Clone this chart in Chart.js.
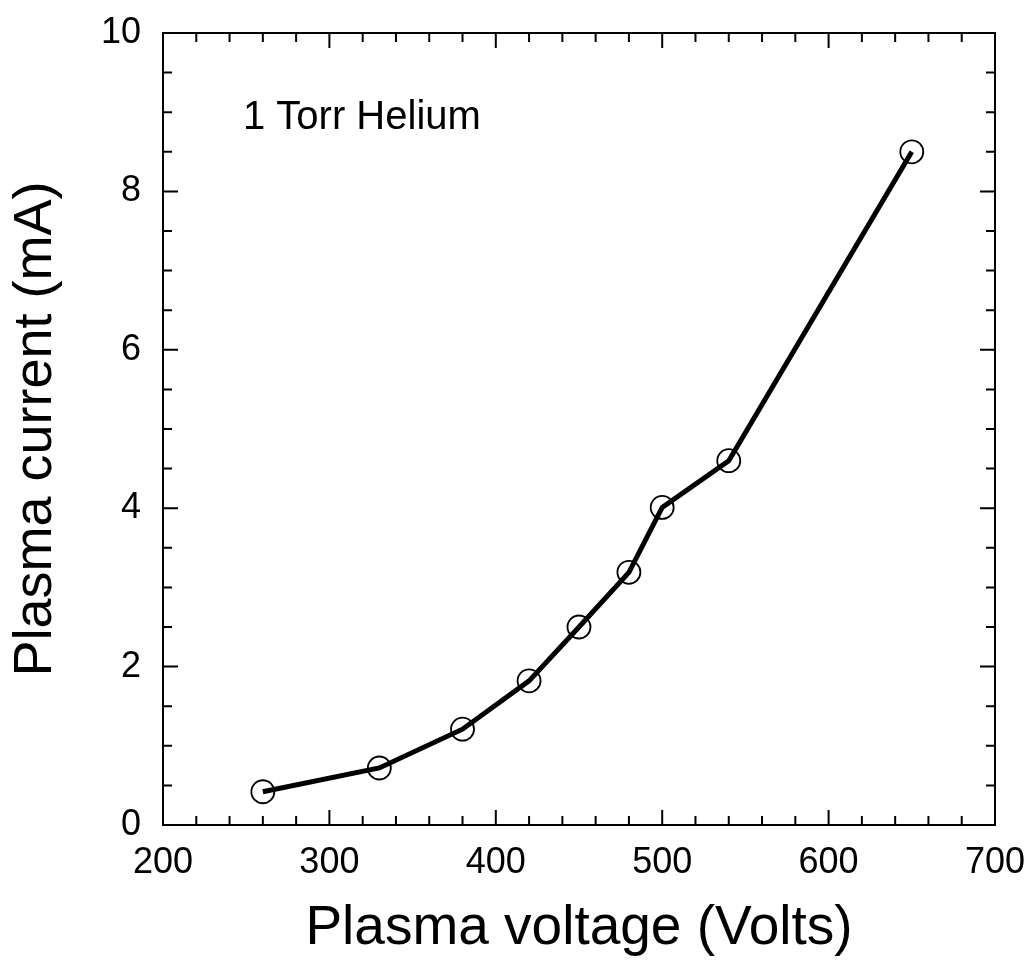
<!DOCTYPE html>
<html>
<head>
<meta charset="utf-8">
<script src="https://cdn.jsdelivr.net/npm/chart.js@4"></script>
<style>
  html, body { margin: 0; padding: 0; background: #fff; }
  #wrap { width: 1034px; height: 966px; }
</style>
</head>
<body>
<div id="wrap"><canvas id="chart"></canvas></div>
<script>
// Data
const voltage = [260, 330, 380, 420, 450, 480, 500, 540, 650];
const current = [0.42, 0.72, 1.21, 1.82, 2.5, 3.19, 4.01, 4.6, 8.5];
const xTicks = [200, 300, 400, 500, 600, 700];
const yTicks = [0, 2, 4, 6, 8, 10];
const noteText = '1 Torr Helium';

const FONT = '"Liberation Sans", Arial, Helvetica, sans-serif';

// inward ticks on all four sides (major + minor)
const frameTicks = {
    id: 'frameTicks',
    afterDraw(chart) {
        const { ctx, chartArea: a, scales: { x, y } } = chart;
        ctx.save();
        ctx.strokeStyle = '#000';
        ctx.lineWidth = 2;
        ctx.strokeRect(a.left, a.top, a.right - a.left, a.bottom - a.top);
        ctx.beginPath();
        for (let v = 200; v <= 700; v += 20) {
            const px = x.getPixelForValue(v);
            const len = v % 100 === 0 ? 15 : 9;
            ctx.moveTo(px, a.bottom); ctx.lineTo(px, a.bottom - len);
            ctx.moveTo(px, a.top); ctx.lineTo(px, a.top + len);
        }
        for (let v = 0; v <= 10; v += 0.5) {
            const py = y.getPixelForValue(v);
            const len = v % 2 === 0 ? 15 : 9;
            ctx.moveTo(a.left, py); ctx.lineTo(a.left + len, py);
            ctx.moveTo(a.right, py); ctx.lineTo(a.right - len, py);
        }
        ctx.stroke();

        ctx.fillStyle = '#000';
        ctx.font = '40px ' + FONT;
        ctx.textAlign = 'left';
        ctx.textBaseline = 'middle';
        ctx.fillText(noteText, 243, 118);
        ctx.restore();
    }
};

new Chart(document.getElementById('chart'), {
    type: 'scatter',
    data: {
        datasets: [{
            data: voltage.map((v, i) => ({ x: v, y: current[i] })),
            showLine: true,
            borderColor: '#000',
            borderWidth: 5,
            pointRadius: 11.5,
            pointBorderWidth: 1.8,
            pointBorderColor: '#000',
            pointBackgroundColor: 'rgba(0,0,0,0)'
        }]
    },
    options: {
        responsive: true,
        maintainAspectRatio: false,
        animation: false,
        layout: { padding: { left: 0, right: 39, top: 33, bottom: 0 } },
        plugins: { legend: { display: false }, tooltip: { enabled: false } },
        scales: {
            x: {
                type: 'linear',
                min: 200, max: 700,
                afterBuildTicks: s => { s.ticks = xTicks.map(v => ({ value: v })); },
                afterFit: s => { s.height = 141; s.paddingLeft = 0; s.paddingRight = 0; },
                grid: { display: false, drawTicks: false },
                border: { display: false },
                ticks: { color: '#000', font: { family: FONT, size: 36 }, padding: 16, maxRotation: 0 },
                title: { display: true, text: 'Plasma voltage (Volts)', color: '#000',
                         font: { family: FONT, size: 55 }, padding: { top: 0 } }
            },
            y: {
                type: 'linear',
                min: 0, max: 10,
                afterBuildTicks: s => { s.ticks = yTicks.map(v => ({ value: v })); },
                afterFit: s => { s.width = 163; s.paddingTop = 0; s.paddingBottom = 0; },
                grid: { display: false, drawTicks: false },
                border: { display: false },
                ticks: { color: '#000', font: { family: FONT, size: 36 }, padding: 22 },
                title: { display: true, text: 'Plasma current (mA)', color: '#000',
                         font: { family: FONT, size: 54 }, padding: { bottom: 2 } }
            }
        }
    },
    plugins: [frameTicks]
});
</script>
</body>
</html>
